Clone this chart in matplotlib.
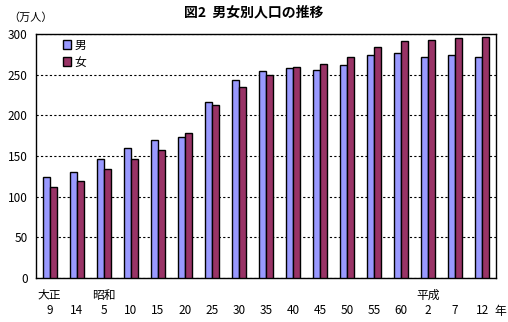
import matplotlib
matplotlib.use("Agg")
import matplotlib.pyplot as plt
import numpy as np

plt.rcParams['font.family'] = ['Noto Sans CJK JP', 'DejaVu Sans']

# census years (era label shown only at the first year of each era)
years = ['9', '14', '5', '10', '15', '20', '25', '30', '35', '40', '45', '50', '55', '60', '2', '7', '12']
eras = ['大正', '', '昭和', '', '', '', '', '', '', '', '', '', '', '', '平成', '', '']

# population, 10k persons
male = [123.8, 130.0, 146.0, 159.4, 169.3, 173.0, 216.0, 243.0, 254.0, 257.8,
        255.4, 261.5, 273.8, 276.3, 271.3, 273.8, 271.3]
female = [111.5, 119.0, 133.6, 146.7, 157.0, 177.9, 212.3, 234.5, 249.2, 259.0,
          262.8, 271.3, 283.6, 291.0, 292.2, 294.7, 296.0]

fig = plt.figure(figsize=(5.08, 3.22), dpi=100)
ax = fig.add_axes([0.0709, 0.1366, 0.9047, 0.7578])

x = np.arange(len(years))
w = 0.26
ax.bar(x - w / 2, male, w, color='#9999FF', edgecolor='black', linewidth=1, label='男', zorder=3)
ax.bar(x + w / 2, female, w, color='#993366', edgecolor='black', linewidth=1, label='女', zorder=3)

ax.set_xlim(-0.5, len(years) - 0.5)
ax.set_ylim(0, 300)
ax.set_yticks(range(0, 301, 50))
ax.yaxis.grid(True, color='black', linestyle=(0, (2, 2)), linewidth=0.8, zorder=0)
ax.tick_params(axis='y', length=0, labelsize=8.5, pad=6)
ax.set_xticks([])
for s in ax.spines.values():
    s.set_color('black')
    s.set_linewidth(1)

# two-row category labels below the axis
for i in range(len(years)):
    ax.text(x[i], -40, years[i], ha='center', va='center', fontsize=8.5)
    if eras[i]:
        ax.text(x[i], -21, eras[i], ha='center', va='center', fontsize=8.5)
fig.text(500 / 508, 1 - 312 / 322, '年', ha='center', va='center', fontsize=8.5)

ax.legend(loc='upper left', bbox_to_anchor=(0.035, 1.025), frameon=False, fontsize=8.5,
          handlelength=0.7, handleheight=0.7, handletextpad=0.3, labelspacing=0.35)

fig.text(0.06, 0.945, '（万人）', ha='center', va='center', fontsize=8)
fig.text(0.5, 0.96, '図2  男女別人口の推移', ha='center', va='center', fontsize=10, fontweight='bold')

fig.savefig('out.png', dpi=100)
